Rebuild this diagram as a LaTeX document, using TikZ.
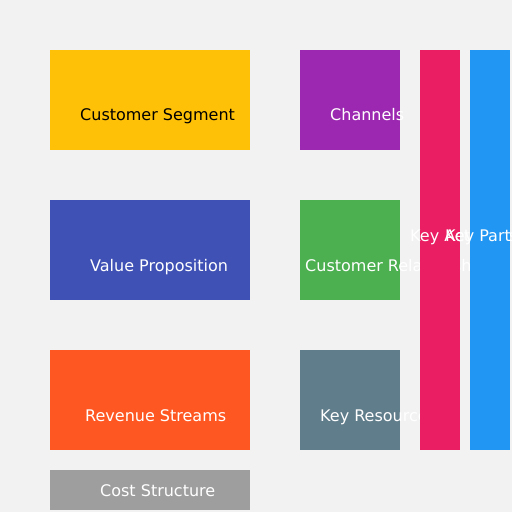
\documentclass[tikz,border=0pt]{standalone}
\usepackage{fontspec}
\setmainfont{DejaVu Sans}
\usepackage{xcolor}
\usepackage{tikz}

\definecolor{bgcol}{HTML}{F2F2F2}
\definecolor{amber}{HTML}{FFC107}
\definecolor{indigo}{HTML}{3F51B5}
\definecolor{deeporange}{HTML}{FF5722}
\definecolor{purple}{HTML}{9C27B0}
\definecolor{green}{HTML}{4CAF50}
\definecolor{bluegrey}{HTML}{607D8B}
\definecolor{pink}{HTML}{E91E63}
\definecolor{blue}{HTML}{2196F3}
\definecolor{grey}{HTML}{9E9E9E}

\begin{document}
\begin{tikzpicture}[
    x=1bp, y=-1bp,
    block/.style={draw=none, inner sep=0pt, outer sep=0pt, anchor=north west},
    wide/.style={block, minimum width=200bp, minimum height=100bp},
    square/.style={block, minimum width=100bp, minimum height=100bp},
    tall/.style={block, minimum width=40bp, minimum height=400bp},
    cardtext/.style={inner sep=0pt, anchor=base west, text=white,
        font=\fontsize{16bp}{20bp}\selectfont}
    ]

    \fill[bgcol] (0,0) rectangle (512,512);
    \useasboundingbox (0,0) rectangle (512,512);

    % left column
    \node[wide, fill=amber] (cs) at (50,50) {};
    \node[cardtext, text=black] (cstext) at (80,121) {Customer Segment};
    \node[wide, fill=indigo] (vp) at (50,200) {};
    \node[cardtext] (vptext) at (90,271) {Value Proposition};
    \node[wide, fill=deeporange] (rs) at (50,350) {};
    \node[cardtext] (rstext) at (85,421) {Revenue Streams};

    % middle column
    \node[square, fill=purple] (ch) at (300,50) {};
    \node[cardtext] (chtext) at (330,121) {Channels};
    \node[square, fill=green] (cr) at (300,200) {};
    \node[cardtext] (crtext) at (305,271) {Customer Relationships};
    \node[square, fill=bluegrey] (kr) at (300,350) {};
    \node[cardtext] (krtext) at (320,421) {Key Resources};

    % right bars
    \node[tall, fill=pink] (ka) at (420,50) {};
    \node[cardtext] (katext) at (410,241) {Key Activities};
    \node[tall, fill=blue] (kp) at (470,50) {};
    \node[cardtext] (kptext) at (445,241) {Key Partners};

    % bottom
    \node[block, fill=grey, minimum width=200bp, minimum height=40bp] (cost) at (50,470) {};
    \node[cardtext] (costtext) at (100,496) {Cost Structure};

\end{tikzpicture}
\end{document}
